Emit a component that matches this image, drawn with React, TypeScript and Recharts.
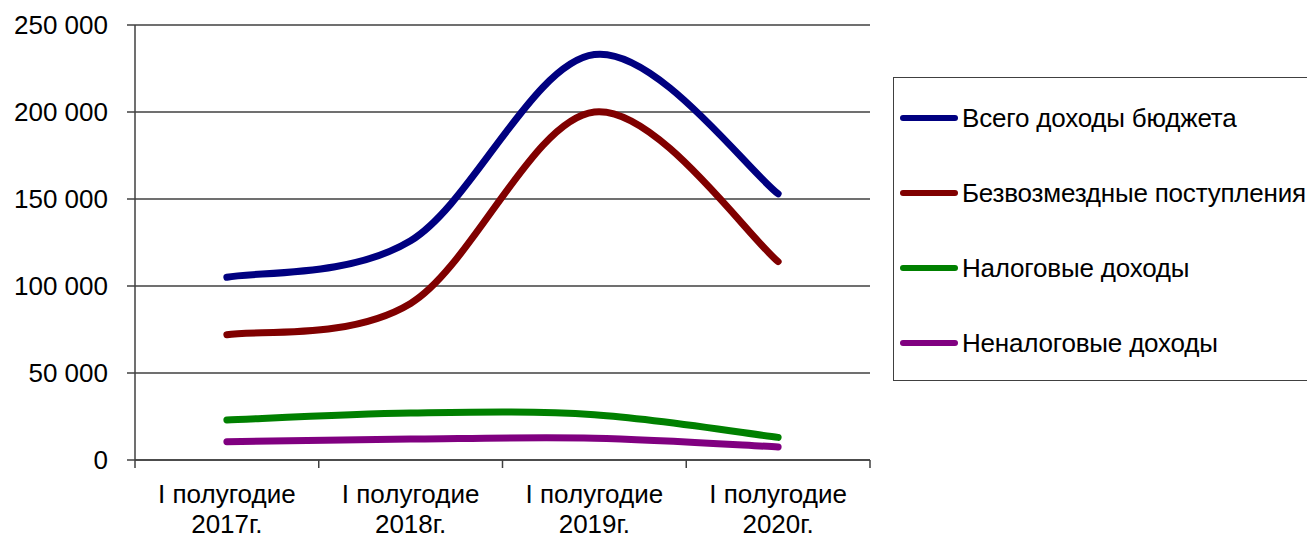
import { LineChart, Line, XAxis, YAxis, CartesianGrid } from 'recharts';

const categories = ['I полугодие 2017г.', 'I полугодие 2018г.', 'I полугодие 2019г.', 'I полугодие 2020г.'];
const totalIncome = [105000, 126000, 233000, 153000];
const grants = [72000, 90000, 200000, 114000];
const taxIncome = [23000, 27000, 26000, 13000];
const nonTaxIncome = [10500, 12000, 12500, 7500];
const yTicks = [0, 50000, 100000, 150000, 200000, 250000];

const series = [
  { key: 'total', name: 'Всего доходы бюджета', color: '#000080', values: totalIncome },
  { key: 'grants', name: 'Безвозмездные поступления', color: '#800000', values: grants },
  { key: 'tax', name: 'Налоговые доходы', color: '#008000', values: taxIncome },
  { key: 'nontax', name: 'Неналоговые доходы', color: '#800080', values: nonTaxIncome },
];

// category i sits in the middle of slot [i, i+1]
const data = categories.map((c, i) => {
  const row: Record<string, number | string> = { pos: i + 0.5, name: c };
  series.forEach((s) => (row[s.key] = s.values[i]));
  return row;
});

const xTicks = [0, 0.5, 1, 1.5, 2, 2.5, 3, 3.5, 4];

// smoothing close to the office-style "smoothed line" (uniform Catmull-Rom)
const smoothCurve = (context: any) => {
  let xs: number[] = [];
  let ys: number[] = [];
  return {
    areaStart() {},
    areaEnd() {},
    lineStart() {
      xs = [];
      ys = [];
    },
    point(x: number, y: number) {
      xs.push(+x);
      ys.push(+y);
    },
    lineEnd() {
      const n = xs.length;
      if (!n) return;
      context.moveTo(xs[0], ys[0]);
      for (let i = 0; i < n - 1; i++) {
        const a = Math.max(i - 1, 0);
        const d = Math.min(i + 2, n - 1);
        context.bezierCurveTo(
          xs[i] + (xs[i + 1] - xs[a]) / 6,
          ys[i] + (ys[i + 1] - ys[a]) / 6,
          xs[i + 1] - (xs[d] - xs[i]) / 6,
          ys[i + 1] - (ys[d] - ys[i]) / 6,
          xs[i + 1],
          ys[i + 1]
        );
      }
    },
  };
};

const FONT = '"Liberation Sans", Arial, sans-serif';
const AXIS = '#404040';
const FS = 26;

const fmt = (v: number) => String(v).replace(/\B(?=(\d{3})+(?!\d))/g, ' ');

const XTick = (props: any) => {
  const { x, y, payload } = props;
  const v = payload.value as number;
  if (Number.isInteger(v)) {
    return <line x1={x} y1={y} x2={x} y2={y + 8} stroke={AXIS} strokeWidth={1.5} />;
  }
  const label = categories[Math.floor(v)];
  const parts = label.split(' ');
  const first = parts.slice(0, 2).join(' ');
  const second = parts.slice(2).join(' ');
  return (
    <g>
      <text x={x} y={y + 43} textAnchor="middle" fontSize={FS} fill="#000" fontFamily={FONT}>
        {first}
      </text>
      <text x={x} y={y + 73} textAnchor="middle" fontSize={FS} fill="#000" fontFamily={FONT}>
        {second}
      </text>
    </g>
  );
};

export default function App() {
  return (
    <div
      style={{
        position: 'absolute',
        left: 0,
        top: 0,
        width: 1307,
        height: 536,
        overflow: 'hidden',
        background: '#fff',
        fontFamily: FONT,
      }}
    >
      <LineChart width={1307} height={536} data={data} margin={{ top: 25, right: 437, bottom: 16, left: 0 }}>
        <CartesianGrid vertical={false} stroke={AXIS} strokeWidth={1.5} />
        <XAxis
          dataKey="pos"
          type="number"
          domain={[0, 4]}
          ticks={xTicks}
          interval={0}
          height={60}
          tickLine={false}
          tickSize={0}
          tickMargin={0}
          stroke={AXIS}
          strokeWidth={1.5}
          tick={<XTick />}
        />
        <YAxis
          domain={[0, 250000]}
          ticks={yTicks}
          interval={0}
          width={135}
          tickSize={8}
          tickMargin={19}
          stroke={AXIS}
          strokeWidth={1.5}
          tickFormatter={fmt}
          tick={{ fill: '#000', fontSize: FS, fontFamily: FONT }}
        />
        {series.map((s) => (
          <Line
            key={s.key}
            dataKey={s.key}
            name={s.name}
            type={smoothCurve as any}
            stroke={s.color}
            strokeWidth={7}
            strokeLinecap="round"
            dot={false}
            activeDot={false}
            isAnimationActive={false}
          />
        ))}
      </LineChart>
      <div
        style={{
          position: 'absolute',
          left: 893,
          top: 77,
          width: 430,
          height: 304,
          border: `1.5px solid ${AXIS}`,
          boxSizing: 'border-box',
        }}
      >
        {series.map((s, i) => (
          <div
            key={s.key}
            style={{
              position: 'absolute',
              left: 6,
              top: 40 + i * 75 - 15,
              height: 30,
              display: 'flex',
              alignItems: 'center',
              whiteSpace: 'nowrap',
            }}
          >
            <div style={{ width: 58, height: 5.5, borderRadius: 3, background: s.color, marginRight: 4 }} />
            <span style={{ fontSize: FS, color: '#000', letterSpacing: -0.2 }}>{s.name}</span>
          </div>
        ))}
      </div>
    </div>
  );
}
